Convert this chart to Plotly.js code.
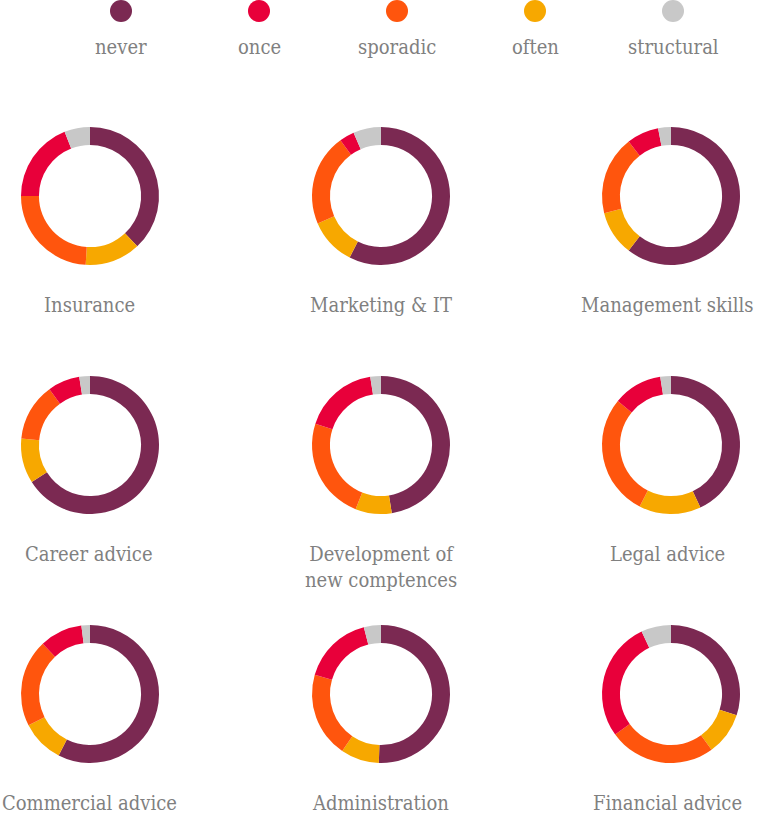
<!DOCTYPE html>
<html>
<head>
<meta charset="utf-8">
<script src="https://cdn.plot.ly/plotly-3.0.1.min.js"></script>
<style>
  html, body { margin: 0; padding: 0; background: #fff; }
  #chart { width: 757px; height: 819px; }
</style>
</head>
<body>
<div id="chart"></div>
<script>
// --- data (share of respondents, %) ---
const categories = ["never", "once", "sporadic", "often", "structural"];
const topics = [
  "Insurance", "Marketing & IT", "Management skills",
  "Career advice", "Development of<br>new comptences", "Legal advice",
  "Commercial advice", "Administration", "Financial advice"
];
const never      = [38,   57.5, 60.5, 66,   47.5, 43,   57.5, 50.5, 30];
const once       = [19,   3.5,  7.5,  7.5,  17.5, 11.5, 10,   16.5, 28];
const sporadic   = [24,   21.5, 18.5, 13.5, 24,   28.5, 20.5, 20,   25];
const often      = [13,   11,   10.5, 10.5, 8.5,  14.5, 10,   9,    10];
const structural = [6,    6.5,  3,    2.5,  2.5,  2.5,  2,    4,    7];

const colors = {
  never: "#7b2952",
  once: "#e8003a",
  sporadic: "#ff550d",
  often: "#f7a800",
  structural: "#c8c8c8",
};

// slices run clockwise from 12 o'clock in this order
const sliceOrder = ["never", "often", "sporadic", "once", "structural"];
const series = { never, once, sporadic, often, structural };

const W = 757, H = 819;
const colX = [90, 381, 671];
const labX = [89, 381, 667];
const rowY = [196, 445, 694];
const R = 69;
const FONT = { family: "DejaVu Serif Condensed, DejaVu Serif, serif", color: "#808080", size: 20 };

const traces = [];
const annotations = [];
const shapes = [];

topics.forEach((name, i) => {
  const cx = colX[i % 3], cy = rowY[Math.floor(i / 3)];
  traces.push({
    type: "pie",
    labels: sliceOrder,
    values: sliceOrder.map((c) => series[c][i]),
    marker: { colors: sliceOrder.map((c) => colors[c]), line: { width: 0 } },
    hole: 0.74,
    sort: false,
    direction: "clockwise",
    rotation: 0,
    textinfo: "none",
    hoverinfo: "label+percent",
    showlegend: false,
    domain: {
      x: [(cx - R) / W, (cx + R) / W],
      y: [1 - (cy + R) / H, 1 - (cy - R) / H],
    },
  });
  annotations.push({
    text: name,
    xref: "paper", yref: "paper",
    x: labX[i % 3] / W, y: 1 - (cy + 95) / H,
    xanchor: "center", yanchor: "top",
    showarrow: false,
    font: FONT,
  });
});

// legend: dot above label
const legX = [121, 259, 397, 535, 673];
categories.forEach((c, i) => {
  const x = legX[i];
  shapes.push({
    type: "circle", xref: "paper", yref: "paper",
    x0: (x - 11) / W, x1: (x + 11) / W,
    y0: 1 - 22 / H, y1: 1 - 0 / H,
    fillcolor: colors[c], line: { width: 0 },
  });
  annotations.push({
    text: c,
    xref: "paper", yref: "paper",
    x: x / W, y: 1 - 47 / H,
    xanchor: "center", yanchor: "middle",
    showarrow: false,
    font: FONT,
  });
});

Plotly.newPlot("chart", traces, {
  width: W, height: H,
  margin: { l: 0, r: 0, t: 0, b: 0 },
  paper_bgcolor: "#fff",
  font: FONT,
  annotations,
  shapes,
}, { displayModeBar: false, staticPlot: true });
</script>
</body>
</html>
